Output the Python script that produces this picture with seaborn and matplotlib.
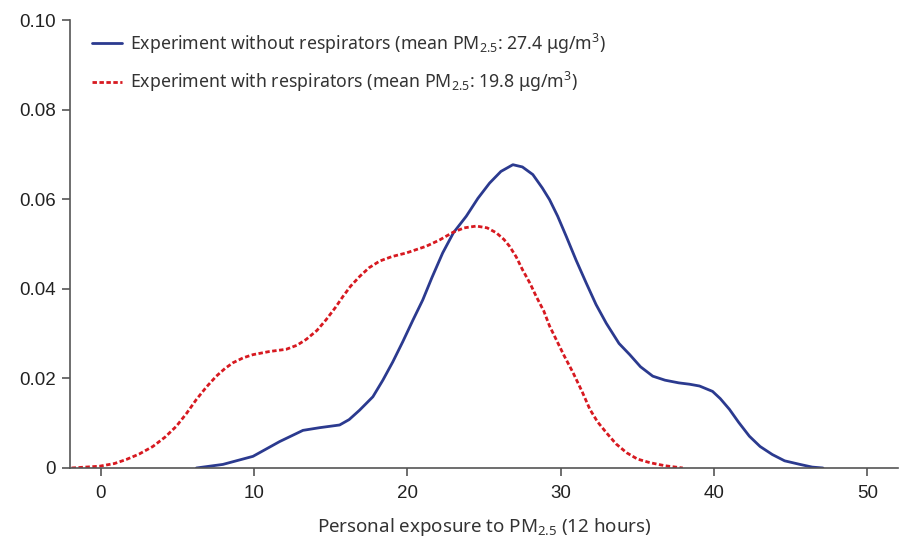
import matplotlib
matplotlib.use("Agg")
import matplotlib.pyplot as plt
import seaborn as sns
import pandas as pd
from matplotlib.ticker import FuncFormatter

# Data (density curves)
x_without = [6.24, 7.97, 9.93, 11.67, 13.19, 14.28, 15.58, 16.2, 16.88, 17.75, 18.4, 19.05, 19.7, 20.36, 21.0, 21.6, 22.3, 23.0, 23.84, 24.6, 25.36, 26.1, 26.88, 27.5, 28.18, 28.8, 29.27, 29.8, 30.36, 31.0, 31.66, 32.3, 32.97, 33.8, 34.5, 35.2, 36.0, 36.8, 37.7, 38.4, 39.05, 39.9, 40.4, 41.0, 41.6, 42.3, 43.0, 43.8, 44.6, 45.6, 46.4, 47.1]
y_without = [0.0, 0.0008, 0.0026, 0.0059, 0.0084, 0.0090, 0.0096, 0.0108, 0.0129, 0.0159, 0.0196, 0.0237, 0.0282, 0.0330, 0.0375, 0.0425, 0.0480, 0.0525, 0.0562, 0.0602, 0.0636, 0.0662, 0.0677, 0.0672, 0.0655, 0.0625, 0.0599, 0.0562, 0.0517, 0.0464, 0.0413, 0.0365, 0.0323, 0.0278, 0.0253, 0.0226, 0.0205, 0.0196, 0.0190, 0.0187, 0.0183, 0.0171, 0.0155, 0.0131, 0.0102, 0.0071, 0.0048, 0.0030, 0.0016, 0.0008, 0.0002, 0.0]

x_with = [-1.9, -0.07, 0.9, 1.67, 2.5, 3.4, 4.2, 4.93, 5.6, 6.24, 6.9, 7.54, 8.1, 8.63, 9.3, 9.93, 11.0, 12.1, 12.8, 13.4, 14.1, 14.7, 15.3, 15.8, 16.3, 16.9, 17.5, 18.2, 19.0, 19.93, 21.23, 22.1, 22.97, 23.7, 24.5, 25.2, 25.8, 26.3, 26.66, 27.1, 27.5, 28.0, 28.4, 28.9, 29.27, 29.7, 30.2, 30.8, 31.4, 31.9, 32.4, 32.97, 33.6, 34.3, 35.0, 35.8, 36.8, 37.96]
y_with = [0.0, 0.0004, 0.0010, 0.0019, 0.0031, 0.0048, 0.0069, 0.0093, 0.0122, 0.0153, 0.0181, 0.0205, 0.0222, 0.0235, 0.0246, 0.0253, 0.0260, 0.0265, 0.0274, 0.0287, 0.0307, 0.0331, 0.0358, 0.0383, 0.0406, 0.0428, 0.0447, 0.0462, 0.0472, 0.0480, 0.0495, 0.0509, 0.0526, 0.0536, 0.0540, 0.0536, 0.0525, 0.0510, 0.0495, 0.0471, 0.0443, 0.0412, 0.0383, 0.0350, 0.0317, 0.0287, 0.0252, 0.0213, 0.0170, 0.0131, 0.0103, 0.0079, 0.0054, 0.0034, 0.0020, 0.0012, 0.0005, 0.0]

label_without = "Experiment without respirators (mean PM$_{2.5}$: 27.4 μg/m$^{3}$)"
label_with = "Experiment with respirators (mean PM$_{2.5}$: 19.8 μg/m$^{3}$)"
x_ticks = [0, 10, 20, 30, 40, 50]
y_ticks = [0, 0.02, 0.04, 0.06, 0.08, 0.10]
x_label = "Personal exposure to PM$_{2.5}$ (12 hours)"

sns.set_theme(style="white")
plt.rcParams["font.family"] = ["Liberation Sans", "DejaVu Sans"]
plt.rcParams["mathtext.default"] = "regular"

fig = plt.figure(figsize=(8.99, 5.45), dpi=100)
ax = fig.add_axes([0.0779, 0.1413, 0.9211, 0.8220])

blue = "#2b3a8f"
red = "#d71920"

df_a = pd.DataFrame({"x": x_without, "y": y_without})
df_b = pd.DataFrame({"x": x_with, "y": y_with})

sns.lineplot(data=df_a, x="x", y="y", ax=ax, color=blue, linewidth=2.0,
             label=label_without, sort=False)
sns.lineplot(data=df_b, x="x", y="y", ax=ax, color=red, linewidth=2.0,
             label=label_with, sort=False)
ax.lines[0].set_solid_joinstyle("round")
ax.lines[1].set_dashes([1.6, 0.9])

ax.set_xlim(-2, 52)
ax.set_ylim(0, 0.10)
ax.set_xticks(x_ticks)
ax.set_yticks(y_ticks)
ax.yaxis.set_major_formatter(FuncFormatter(lambda v, p: "0" if v == 0 else f"{v:.2f}"))
ax.set_xlabel(x_label, fontsize=13.5, color="#333333", labelpad=10,
              family=["Noto Sans", "DejaVu Sans"])
ax.set_ylabel("")

for s in ["top", "right"]:
    ax.spines[s].set_visible(False)
for s in ["left", "bottom"]:
    ax.spines[s].set_color("#555555")
    ax.spines[s].set_linewidth(1.2)
ax.tick_params(axis="both", which="major", direction="out", length=6, width=1.2,
               color="#555555", labelsize=13.5, labelcolor="#222222", left=True, bottom=True)
ax.tick_params(axis="x", pad=6)
ax.tick_params(axis="y", pad=4)

leg = ax.legend(loc="upper left", bbox_to_anchor=(0.007, 1.01), frameon=False,
                prop={"family": ["Noto Sans", "DejaVu Sans"], "size": 12.75},
                handlelength=1.7, handletextpad=0.45, labelspacing=0.8)
for t in leg.get_texts():
    t.set_color("#333333")
for i, l in enumerate(leg.get_lines()):
    l.set_linewidth(2.0)
    if i == 1:
        l.set_linestyle((0, (1.6, 0.9)))

fig.savefig("out.png", dpi=100, facecolor="white")
